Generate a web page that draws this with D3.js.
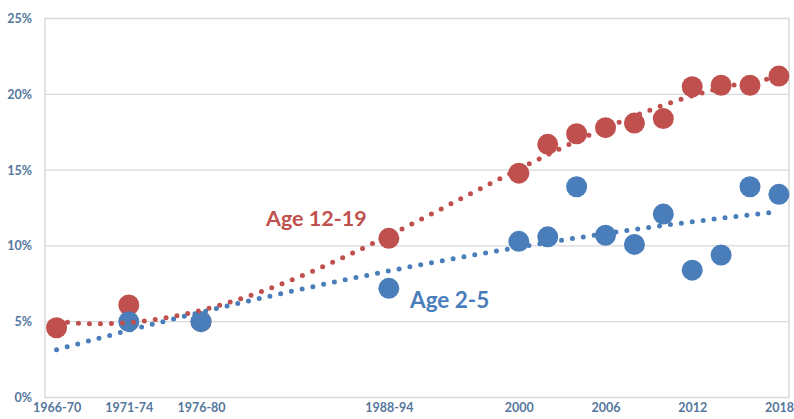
<!DOCTYPE html>
<html><head><meta charset="utf-8">
<script src="https://cdn.jsdelivr.net/npm/d3@7"></script>
<style>body{margin:0;background:#fff}svg{display:block}</style>
</head><body>
<svg id="chart" width="794" height="419"></svg>
<script>
// ---- data ----
const xTickYears = [1968, 1973, 1978, 1991, 2000, 2006, 2012, 2018];
const xTickLabels = ["1966-70", "1971-74", "1976-80", "1988-94", "2000", "2006", "2012", "2018"];
const yTicks = [0, 5, 10, 15, 20, 25];
const teenYears = [1968, 1973, 1978, 1991, 2000, 2002, 2004, 2006, 2008, 2010, 2012, 2014, 2016, 2018];
const teenValues = [4.6, 6.1, 5.0, 10.5, 14.8, 16.7, 17.4, 17.8, 18.1, 18.4, 20.5, 20.6, 20.6, 21.2];
const childYears = [1973, 1978, 1991, 2000, 2002, 2004, 2006, 2008, 2010, 2012, 2014, 2016, 2018];
const childValues = [5.0, 5.0, 7.2, 10.3, 10.6, 13.9, 10.7, 10.1, 12.1, 8.4, 9.4, 13.9, 13.4];
const trendRange = [1968, 2018];

const RED = "#C0504D", BLUE = "#4A7EBB", AXIS_TXT = "#55779d", GRID = "#d9d9d9";

const svg = d3.select("#chart");
const x = d3.scaleLinear().domain([1967.2, 2018.7]).range([45, 789]);
const y = d3.scaleLinear().domain([0, 25]).range([397.5, 18.5]);

// grid
svg.append("g").selectAll("line").data(yTicks.filter(d => d > 0)).join("line")
  .attr("x1", x.range()[0]).attr("x2", x.range()[1])
  .attr("y1", d => y(d)).attr("y2", d => y(d))
  .attr("stroke", GRID).attr("stroke-width", 1.2);
// box
svg.append("rect").attr("x", x.range()[0]).attr("y", y(25))
  .attr("width", x.range()[1] - x.range()[0]).attr("height", y(0) - y(25))
  .attr("fill", "none").attr("stroke", GRID).attr("stroke-width", 1.5);

// axes
const yAxis = svg.append("g").attr("transform", `translate(${x.range()[0]},0)`)
  .call(d3.axisLeft(y).tickValues(yTicks).tickSize(0).tickPadding(13).tickFormat(d => d + "%"));
const xAxis = svg.append("g").attr("transform", `translate(0,${y(0)})`)
  .call(d3.axisBottom(x).tickValues(xTickYears).tickSize(0).tickPadding(6)
    .tickFormat((d, i) => xTickLabels[i]));
[yAxis, xAxis].forEach(a => {
  a.select(".domain").remove();
  a.selectAll("text").attr("fill", AXIS_TXT).style("font-family", "Lato, 'Open Sans', sans-serif")
    .style("font-weight", "700").style("font-size", "12.5px");
});

// polynomial least squares fit
function polyFit(xs, ys, order) {
  const c = 1993, s = 25;
  const n = order + 1;
  const A = Array.from({length: n}, () => new Array(n + 1).fill(0));
  xs.forEach((xv, k) => {
    const t = (xv - c) / s;
    for (let i = 0; i < n; i++) {
      for (let j = 0; j < n; j++) A[i][j] += Math.pow(t, i + j);
      A[i][n] += ys[k] * Math.pow(t, i);
    }
  });
  for (let i = 0; i < n; i++) {
    let p = i;
    for (let r = i + 1; r < n; r++) if (Math.abs(A[r][i]) > Math.abs(A[p][i])) p = r;
    [A[i], A[p]] = [A[p], A[i]];
    for (let r = 0; r < n; r++) {
      if (r === i) continue;
      const f = A[r][i] / A[i][i];
      for (let cc = i; cc <= n; cc++) A[r][cc] -= f * A[i][cc];
    }
  }
  const coef = A.map((row, i) => row[n] / row[i]);
  return xv => { const t = (xv - c) / s; return coef.reduce((acc, co, i) => acc + co * Math.pow(t, i), 0); };
}

// markers
function markers(xs, vs, color) {
  svg.append("g").selectAll("circle").data(xs.map((d, i) => [d, vs[i]])).join("circle")
    .attr("cx", d => x(d[0])).attr("cy", d => y(d[1])).attr("r", 10.5).attr("fill", color);
}
markers(teenYears, teenValues, RED);
markers(childYears, childValues, BLUE);

// trendlines
function trend(xs, vs, order, color) {
  const f = polyFit(xs, vs, order);
  const pts = d3.range(trendRange[0], trendRange[1] + 0.01, 0.25).map(t => [t, f(t)]);
  svg.append("path").datum(pts)
    .attr("d", d3.line().x(d => x(d[0])).y(d => y(d[1])))
    .attr("fill", "none").attr("stroke", color).attr("stroke-width", 5)
    .attr("stroke-linecap", "round").attr("stroke-dasharray", "0 11");
}
trend(teenYears, teenValues, 3, RED);
trend(childYears, childValues, 2, BLUE);

// labels
svg.append("text").attr("x", 266).attr("y", 226).text("Age 12-19")
  .attr("fill", RED).style("font-family", "Lato, 'Open Sans', sans-serif")
  .style("font-weight", "700").style("font-size", "21.5px");
svg.append("text").attr("x", 410).attr("y", 308).text("Age 2-5")
  .attr("fill", BLUE).style("font-family", "Lato, 'Open Sans', sans-serif")
  .style("font-weight", "700").style("font-size", "22.5px");
</script>
</body></html>
